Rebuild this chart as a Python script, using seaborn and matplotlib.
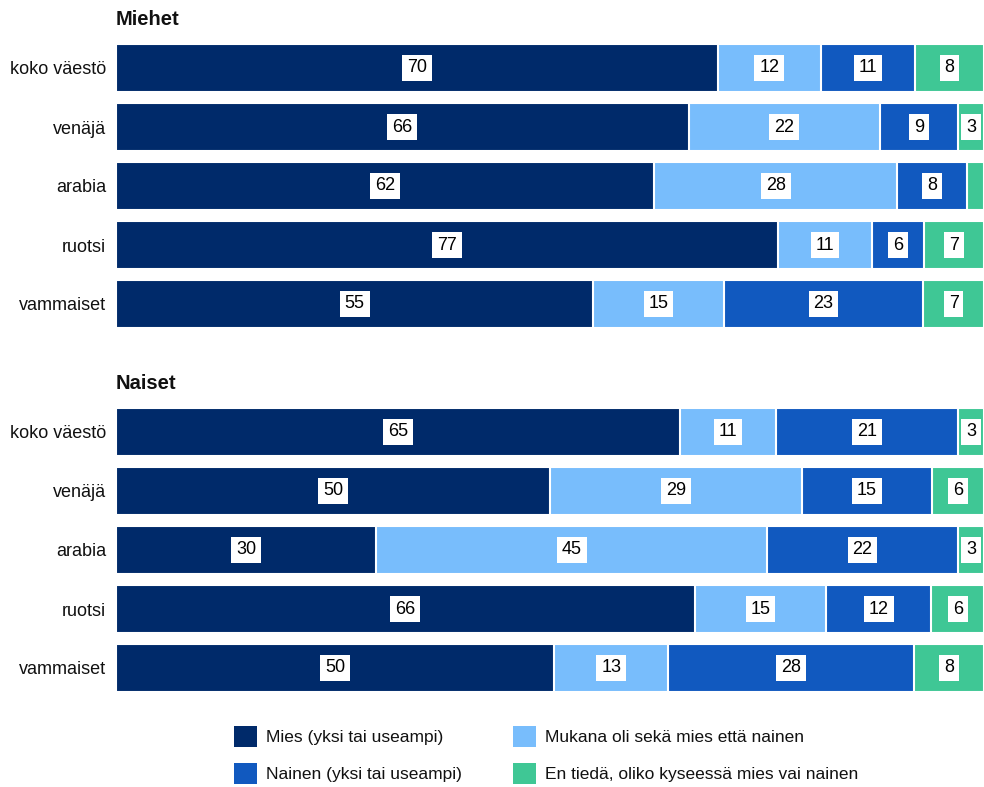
import numpy as np
import pandas as pd
import matplotlib
matplotlib.use("Agg")
import matplotlib.pyplot as plt
from matplotlib.patches import Patch
import seaborn as sns

# === Data ===
groups = ["koko väestö", "venäjä", "arabia", "ruotsi", "vammaiset"]
series = ["Mies (yksi tai useampi)", "Mukana oli sekä mies että nainen",
          "Nainen (yksi tai useampi)", "En tiedä, oliko kyseessä mies vai nainen"]

miehet_mies = [70, 66, 62, 77, 55]
miehet_molemmat = [12, 22, 28, 11, 15]
miehet_nainen = [11, 9, 8, 6, 23]
miehet_eos = [8, 3, 2, 7, 7]

naiset_mies = [65, 50, 30, 66, 50]
naiset_molemmat = [11, 29, 45, 15, 13]
naiset_nainen = [21, 15, 22, 12, 28]
naiset_eos = [3, 6, 3, 6, 8]

colors = ["#002a6a", "#78bdfc", "#1159bf", "#3fc795"]

sns.set_theme(style="white")
plt.rcParams["font.family"] = ["Liberation Sans", "DejaVu Sans"]

fig = plt.figure(figsize=(9.84, 7.87), dpi=100)


def draw_panel(ax, cols, title):
    df = pd.DataFrame(dict(zip(series, cols)), index=groups)
    # bars fill the full width: share of row total
    pct = df.div(df.sum(axis=1), axis=0) * 100
    cum = pct.cumsum(axis=1)
    # draw cumulative totals from the widest down so they overlap as stacks
    for i in range(len(series) - 1, -1, -1):
        sns.barplot(x=cum.iloc[:, i].values, y=groups, orient="h", ax=ax,
                    color=colors[i], width=0.81, edgecolor="white",
                    linewidth=1.5, saturation=1)
    for r, g in enumerate(groups):
        left = 0
        for i, s in enumerate(series):
            w = pct.loc[g, s]
            v = df.loc[g, s]
            if v >= 3:
                ax.text(left + w / 2, r, f"{v}", ha="center", va="center",
                        fontsize=13, color="black",
                        bbox=dict(facecolor="white", edgecolor="none", pad=3.5),
                        clip_on=True)
            left += w
    ax.set_xlim(0, 100)
    ax.set_ylim(4.5, -0.5)
    ax.set_xticks([])
    ax.set_xlabel("")
    ax.set_ylabel("")
    ax.tick_params(axis="y", length=0, pad=7, labelsize=13, labelcolor="#111111")
    for sp in ax.spines.values():
        sp.set_visible(False)
    ax.set_title(title, loc="left", fontsize=14.5, fontweight="bold", pad=10,
                 color="#111111")


ax1 = fig.add_axes([116 / 984, 1 - 333.5 / 787, 1 - 116 / 984, 295 / 787])
ax2 = fig.add_axes([116 / 984, 1 - 697.5 / 787, 1 - 116 / 984, 295 / 787])

draw_panel(ax1, [miehet_mies, miehet_molemmat, miehet_nainen, miehet_eos], "Miehet")
draw_panel(ax2, [naiset_mies, naiset_molemmat, naiset_nainen, naiset_eos], "Naiset")

# legend order: column-wise fill
order = [0, 2, 1, 3]
handles = [Patch(facecolor=colors[i], edgecolor="none") for i in order]
labels = [series[i] for i in order]
fig.legend(handles, labels, ncol=2, loc="center", bbox_to_anchor=(0.555, 1 - 755 / 787),
           frameon=False, fontsize=12.5, handlelength=1.3, handleheight=1.5,
           handletextpad=0.5, columnspacing=3.0, labelspacing=0.9,
           labelcolor="#111111")

fig.savefig("out.png", dpi=100)
